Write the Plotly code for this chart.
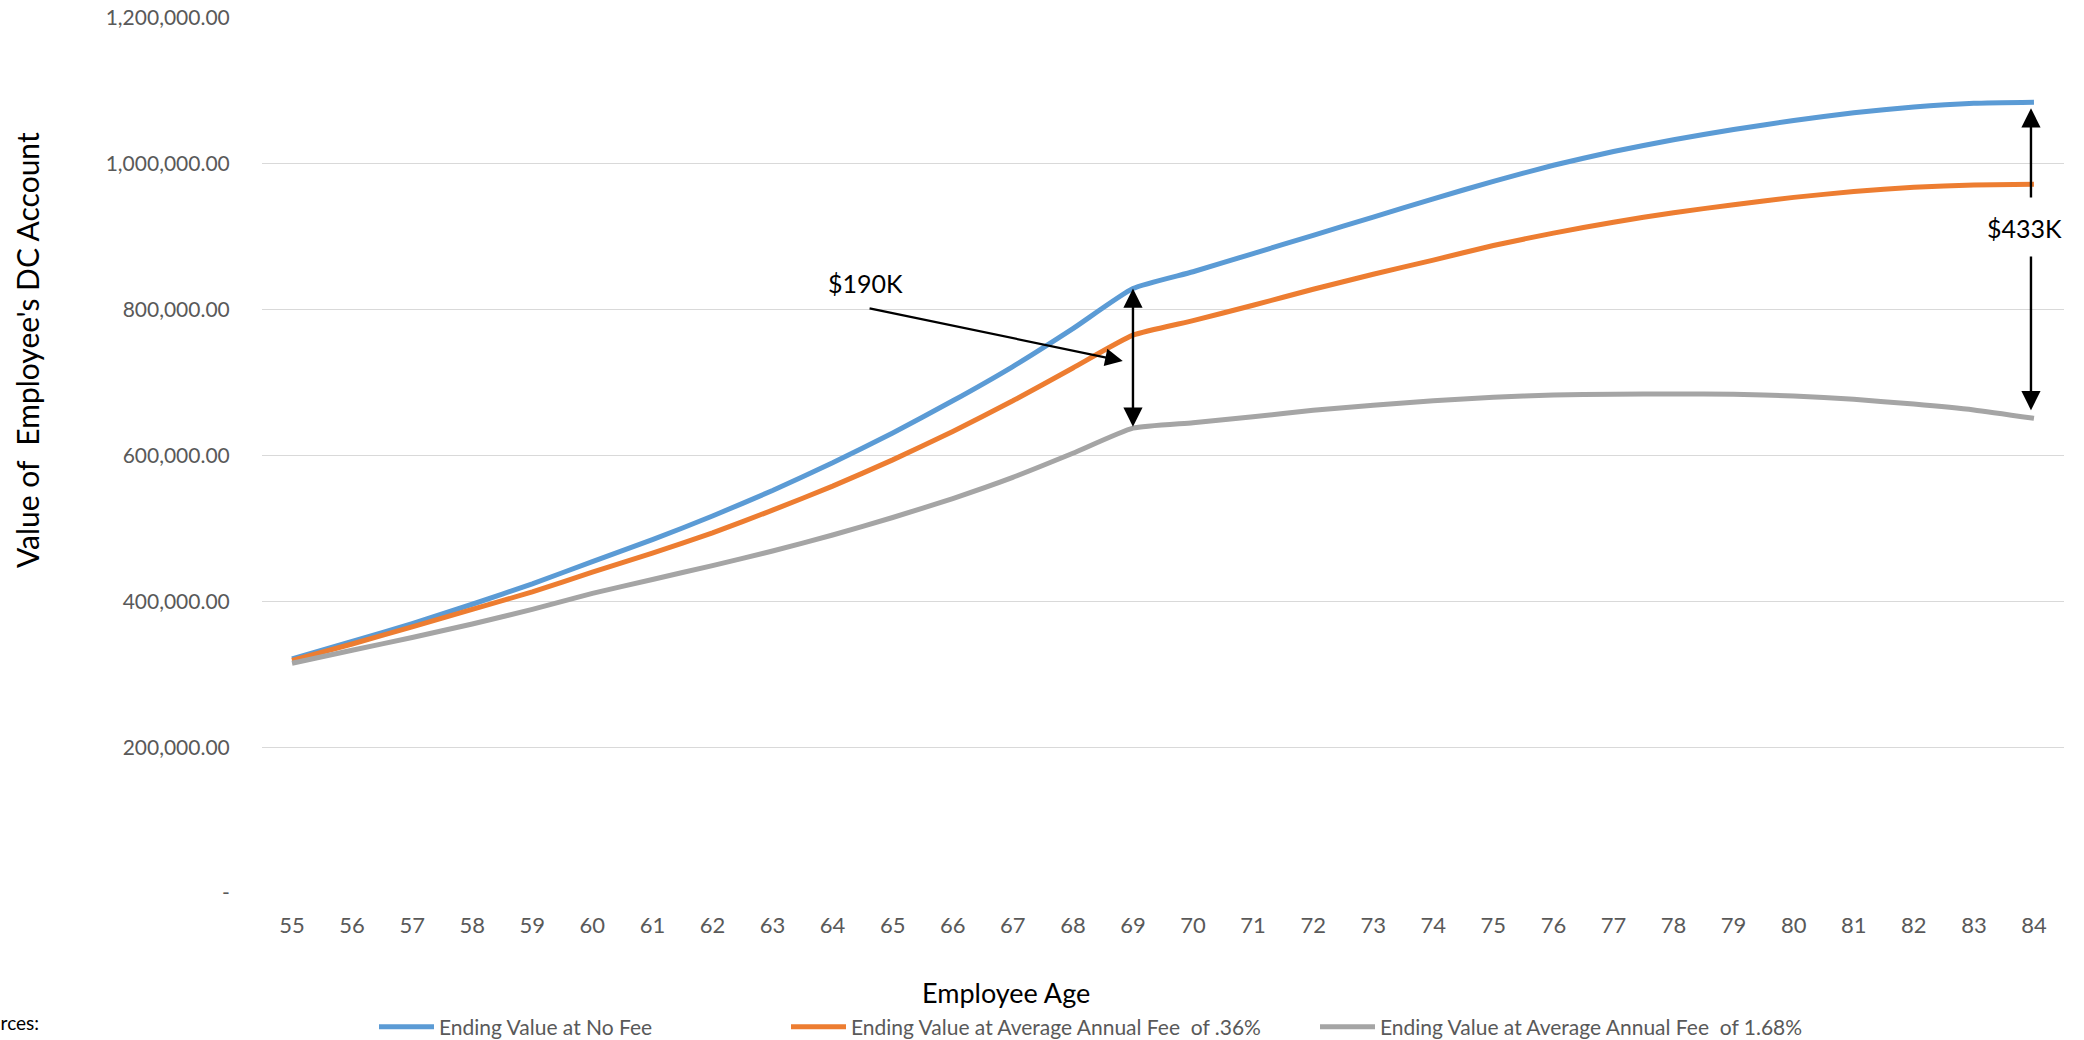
import plotly.graph_objects as go

# Employee age (x categories)
ages = [55, 56, 57, 58, 59, 60, 61, 62, 63, 64, 65, 66, 67, 68, 69,
        70, 71, 72, 73, 74, 75, 76, 77, 78, 79, 80, 81, 82, 83, 84]

# Ending account values for each fee scenario
no_fee = [321000, 345000, 369500, 396000, 424000, 454500, 484500, 517000, 552000, 590000,
          631000, 675000, 722000, 774000, 829000, 852000, 877000, 902000, 927000, 952000,
          976000, 998000, 1017000, 1033000, 1047000, 1059500, 1070000, 1078000, 1083000, 1084500]
fee_036 = [319000, 341500, 365000, 389000, 413000, 440000, 466000, 494000, 525000, 558000,
           594000, 633000, 675000, 720000, 765000, 785000, 806000, 828000, 848500, 868000,
           888000, 905000, 920000, 933000, 944000, 954000, 962000, 968000, 971000, 972000]
fee_168 = [315000, 333000, 350500, 369000, 389000, 411000, 430000, 449000, 469000, 491000,
           515000, 541000, 570000, 603000, 637500, 645000, 653000, 662000, 669000, 675000,
           680000, 683000, 684000, 684500, 684000, 681500, 677000, 670500, 662500, 651000]

series_names = ["Ending Value at No Fee",
                "Ending Value at Average Annual Fee\u00a0 of .36%",
                "Ending Value at Average Annual Fee\u00a0 of 1.68%"]
series_colors = ["#5B9BD5", "#ED7D31", "#A5A5A5"]

y_tickvals = [0, 200000, 400000, 600000, 800000, 1000000, 1200000]
y_ticktext = ["-", "200,000.00", "400,000.00", "600,000.00", "800,000.00",
              "1,000,000.00", "1,200,000.00"]

# Gap labels
gap_retire = "$190K"
gap_end = "$433K"

W, H = 2084, 1040
M_L, M_R, M_T, M_B = 262, 20, 18, 147
PW = W - M_L - M_R
PH = H - M_T - M_B


def px_x(p):
    return (p - M_L) / PW


def px_y(p):
    return (H - M_B - p) / PH


FONT = "Lato"
TICK_COLOR = "#595959"

legend_ids = ["legend", "legend2", "legend3"]
legend_left = [374, 786, 1315]

fig = go.Figure()
for name, vals, col, lid in zip(series_names, [no_fee, fee_036, fee_168], series_colors, legend_ids):
    fig.add_trace(go.Scatter(
        x=ages, y=vals, name=name, mode="lines", legend=lid,
        line=dict(color=col, width=5, shape="spline", smoothing=0.5),
    ))

i69 = ages.index(69)
annotations = []

# Double arrow at retirement age (69)
annotations.append(dict(
    x=69, y=no_fee[i69], ax=69, ay=fee_168[i69],
    xref="x", yref="y", axref="x", ayref="y",
    text="", showarrow=True, arrowhead=2, startarrowhead=2,
    arrowside="end+start", arrowsize=1.6, startarrowsize=1.6,
    arrowwidth=2.4, arrowcolor="#000000",
))
# Label and pointer for the retirement gap
annotations.append(dict(
    x=64.54, y=836000, xref="x", yref="y", text=gap_retire, showarrow=False,
    xanchor="center", yanchor="middle",
    font=dict(family=FONT, size=25, color="#000000"),
))
annotations.append(dict(
    x=68.83, y=729600, ax=64.59, ay=802300,
    xref="x", yref="y", axref="x", ayref="y",
    text="", showarrow=True, arrowhead=2, arrowsize=1.6,
    arrowwidth=2.2, arrowcolor="#000000",
))

# Gap at age 84: two arrows with the label between them
annotations.append(dict(
    x=84, y=no_fee[-1], ax=84, ay=951800,
    xref="x", yref="y", axref="x", ayref="y", xshift=-3,
    text="", showarrow=True, arrowhead=2, arrowsize=1.6, standoff=6,
    arrowwidth=2.4, arrowcolor="#000000",
))
annotations.append(dict(
    x=84, y=fee_168[-1], ax=84, ay=875000,
    xref="x", yref="y", axref="x", ayref="y", xshift=-3,
    text="", showarrow=True, arrowhead=2, arrowsize=1.6, standoff=8,
    arrowwidth=2.4, arrowcolor="#000000",
))
annotations.append(dict(
    x=84, y=912000, xref="x", yref="y", xshift=-9, text=gap_end, showarrow=False,
    xanchor="center", yanchor="middle",
    font=dict(family=FONT, size=25, color="#000000"),
))

# Axis titles
annotations.append(dict(
    x=px_x(27), y=px_y(350), xref="paper", yref="paper",
    xanchor="center", yanchor="middle",
    text="Value of\u00a0 Employee's DC Account", textangle=-90, showarrow=False,
    font=dict(family=FONT, size=30, color="#000000"),
))
annotations.append(dict(
    x=px_x(1006), y=px_y(992), xref="paper", yref="paper",
    xanchor="center", yanchor="middle",
    text="Employee Age", showarrow=False,
    font=dict(family=FONT, size=27, color="#000000"),
))

# Source note in the lower-left corner
annotations.append(dict(
    x=px_x(41), y=px_y(1022), xref="paper", yref="paper", xanchor="right", yanchor="middle",
    text="Sources:", showarrow=False,
    font=dict(family=FONT, size=19, color="#000000"),
))
annotations.append(dict(
    x=px_x(23), y=px_y(1047), xref="paper", yref="paper", xanchor="right", yanchor="middle",
    text="Calculations", showarrow=False,
    font=dict(family=FONT, size=19, color="#000000"),
))

legend_style = dict(
    orientation="h", y=px_y(1027), xanchor="left", yanchor="middle",
    font=dict(family=FONT, size=21, color=TICK_COLOR),
    itemwidth=55, bgcolor="rgba(0,0,0,0)",
)

fig.update_layout(
    width=W, height=H,
    margin=dict(l=M_L, r=M_R, t=M_T, b=M_B, autoexpand=False),
    paper_bgcolor="white", plot_bgcolor="white",
    font=dict(family=FONT, size=21, color=TICK_COLOR),
    showlegend=True,
    legend=dict(x=px_x(legend_left[0]), **legend_style),
    legend2=dict(x=px_x(legend_left[1]), **legend_style),
    legend3=dict(x=px_x(legend_left[2]), **legend_style),
    annotations=annotations,
)

fig.update_xaxes(
    range=[54.5, 84.5], tickmode="array", tickvals=ages, ticktext=[str(a) for a in ages],
    showgrid=False, zeroline=False, showline=False,
    ticks="outside", ticklen=13, tickcolor="rgba(0,0,0,0)",
    tickfont=dict(family=FONT, size=22, color=TICK_COLOR),
)
fig.update_yaxes(
    range=[0, 1200000], tickmode="array", tickvals=y_tickvals, ticktext=y_ticktext,
    showgrid=True, gridcolor="#D9D9D9", gridwidth=1.3, zeroline=False, showline=False,
    ticks="outside", ticklen=27, tickcolor="rgba(0,0,0,0)",
    tickfont=dict(family=FONT, size=21, color=TICK_COLOR),
)

fig.write_html("out.html")
